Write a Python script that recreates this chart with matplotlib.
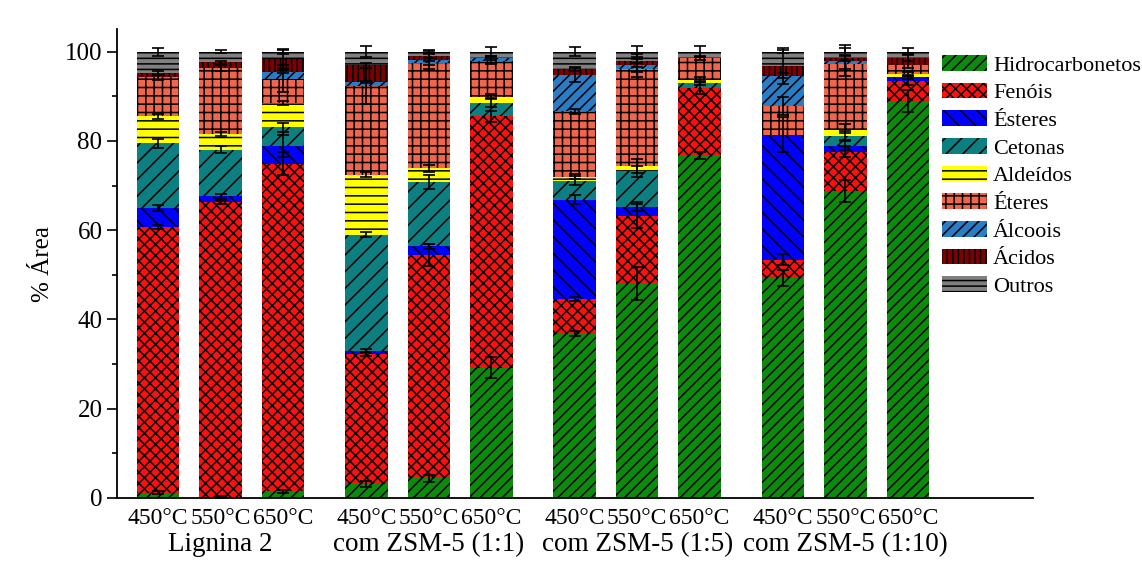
import matplotlib
matplotlib.use("Agg")
import matplotlib.pyplot as plt
import numpy as np

plt.rcParams['font.family'] = ['Liberation Serif', 'DejaVu Serif']
plt.rcParams['hatch.linewidth'] = 1.1

temps = ['450°C', '550°C', '650°C'] * 4
groups = ['Lignina 2', 'com ZSM-5 (1:1)', 'com ZSM-5 (1:5)', 'com ZSM-5 (1:10)']

classes = ['Hidrocarbonetos', 'Fenóis', 'Ésteres', 'Cetonas', 'Aldeídos',
           'Éteres', 'Álcoois', 'Ácidos', 'Outros']

# % área por classe, uma lista por classe (12 amostras)
hidrocarbonetos = [1.2, 0.3, 1.5, 3.1, 4.4, 29.2, 36.8, 48.1, 76.7, 49.3, 68.7, 88.9]
fenois          = [59.5, 66.0, 73.4, 29.1, 50.1, 56.3, 7.8, 15.0, 15.2, 4.1, 8.9, 4.6]
esteres         = [4.3, 1.3, 4.0, 0.8, 1.9, 0.0, 22.2, 2.2, 0.0, 28.0, 1.3, 0.8]
cetonas         = [14.5, 10.4, 4.2, 26.0, 14.4, 3.0, 4.3, 7.9, 1.1, 0.0, 2.3, 0.0]
aldeidos        = [6.0, 3.5, 5.4, 13.4, 3.1, 1.4, 0.9, 1.2, 0.7, 0.0, 1.5, 0.7]
eteres          = [8.7, 14.8, 5.4, 19.9, 23.6, 8.0, 14.6, 21.6, 4.9, 6.5, 14.5, 2.1]
alcoois         = [0.0, 0.0, 1.6, 0.9, 0.6, 0.7, 8.2, 0.9, 0.0, 6.7, 0.8, 0.0]
acidos          = [1.0, 1.3, 2.8, 3.7, 0.9, 0.0, 1.3, 1.0, 0.0, 2.1, 0.5, 1.5]
outros          = [4.8, 2.4, 1.7, 3.1, 1.0, 1.4, 3.9, 2.1, 1.4, 3.3, 1.5, 1.4]

# desvios (barra de erro no topo de cada segmento)
err_h   = [0.3, 0.2, 0.4, 0.6, 0.8, 2.3, 0.6, 3.7, 0.7, 1.7, 2.5, 2.5]
err_f   = [0.5, 0.4, 2.5, 0.5, 2.5, 1.3, 0.5, 2.7, 1.3, 1.2, 1.2, 1.0]
err_es  = [0.6, 0.4, 2.5, 0.3, 0.6, 0.0, 1.0, 1.0, 0.0, 4.0, 1.0, 0.5]
err_c   = [1.0, 0.8, 1.0, 0.5, 1.5, 1.0, 1.0, 1.2, 0.5, 0.0, 1.0, 0.0]
err_al  = [0.5, 0.5, 0.5, 0.6, 0.8, 0.6, 0.6, 1.5, 0.5, 0.0, 1.0, 0.5]
err_et  = [0.5, 0.6, 3.0, 4.0, 0.5, 0.6, 0.5, 0.6, 0.5, 2.0, 1.0, 0.7]
err_alc = [0.0, 0.0, 0.3, 0.3, 2.0, 0.5, 1.5, 2.5, 0.0, 0.5, 3.5, 0.0]
err_ac  = [0.4, 0.4, 2.0, 0.5, 0.5, 0.0, 0.5, 0.5, 0.0, 4.0, 0.5, 0.8]
err_o   = [0.9, 0.4, 0.6, 1.2, 0.4, 1.0, 1.0, 1.3, 1.3, 0.3, 0.8, 0.8]

series = [hidrocarbonetos, fenois, esteres, cetonas, aldeidos, eteres, alcoois, acidos, outros]
errors = [err_h, err_f, err_es, err_c, err_al, err_et, err_alc, err_ac, err_o]
colors = ['#0c8a0c', '#ff1010', '#0000ff', '#0e7f80', '#ffff00',
          '#f0664c', '#2a7cc4', '#7d0000', '#808080']
hatches = ['///', 'xxx', '\\\\', '//', '--', '++', '///', '|||', '---']

# posições das barras: 3 por grupo, com espaço entre grupos
x = np.array([g * 3.333 + i for g in range(4) for i in range(3)])

fig = plt.figure(figsize=(11.42, 5.61), dpi=100)
ax = fig.add_axes([0.1025, 0.1123, 0.8021, 0.8355])

bottom = np.zeros(len(x))
for name, vals, errs, col, hat in zip(classes, series, errors, colors, hatches):
    vals = np.array(vals)
    ax.bar(x, vals, width=0.68, bottom=bottom, color=col, edgecolor='black',
           hatch=hat, linewidth=0, label=name)
    top = bottom + vals
    mask = vals > 0
    ax.errorbar(x[mask], top[mask], yerr=np.array(errs)[mask], fmt='none',
                ecolor='black', elinewidth=1.2, capsize=4, capthick=1.2)
    bottom = top

ax.set_xlim(-0.656, 14.0)
ax.set_ylim(0, 105)
ax.set_yticks([0, 20, 40, 60, 80, 100])
ax.set_yticks([10, 30, 50, 70, 90], minor=True)
ax.set_xticks(x)
ax.set_xticklabels(temps, fontsize=17)
ax.tick_params(axis='x', length=0, pad=7)
ax.tick_params(axis='y', which='major', length=7, width=1.2, labelsize=18)
ax.tick_params(axis='y', which='minor', length=3.5, width=1.2)
for s in ['top', 'right']:
    ax.spines[s].set_visible(False)
for s in ['left', 'bottom']:
    ax.spines[s].set_linewidth(1.3)

for g, name in enumerate(groups):
    ax.text(x[g * 3 + 1], -0.072, name, transform=ax.get_xaxis_transform(),
            ha='center', va='top', fontsize=19.5)

ax.set_ylabel('% Área', fontsize=18, labelpad=8)

ax.legend(loc='upper left', bbox_to_anchor=(0.825, 0.902), bbox_transform=fig.transFigure,
          frameon=False, fontsize=16, handlelength=2.0, handleheight=0.7,
          handletextpad=0.3, labelspacing=0.32, borderaxespad=0, borderpad=0)

fig.savefig('out.png', dpi=100)
